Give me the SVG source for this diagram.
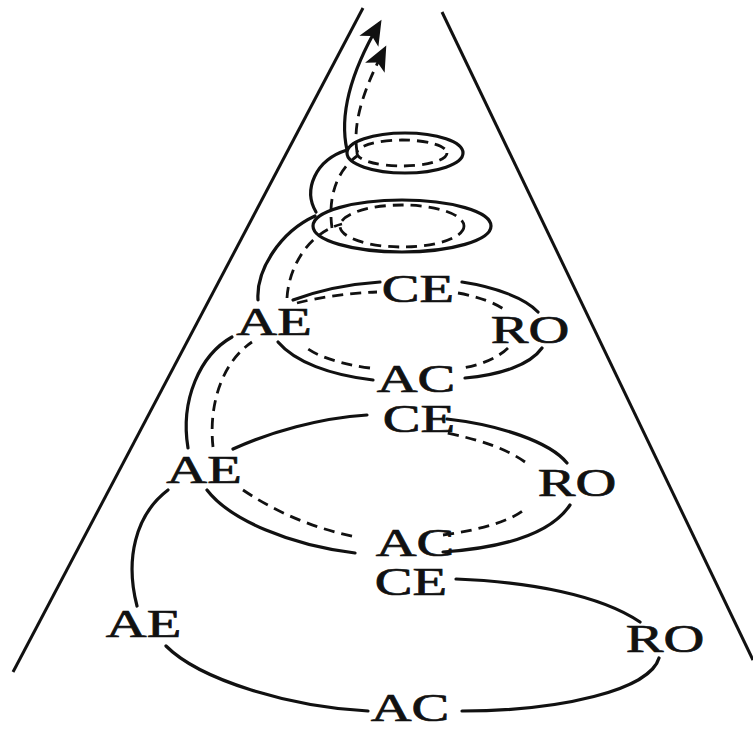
<svg xmlns="http://www.w3.org/2000/svg" width="753" height="730" viewBox="0 0 753 730">
<defs>
<style>
.lbl{font-family:"Liberation Serif","Times New Roman",serif;font-size:39px;fill:#111;stroke:#111;stroke-width:0.7;text-anchor:middle}
.s{fill:none;stroke:#111;stroke-width:3.2;stroke-linecap:round}
.d{fill:none;stroke:#111;stroke-width:2.8;stroke-dasharray:11 7}
.cone{fill:none;stroke:#111;stroke-width:3}
</style>
<marker id="ah" markerUnits="userSpaceOnUse" markerWidth="28" markerHeight="24" refX="20" refY="11" orient="auto">
<path d="M0,0 L25,11 L0,22 L6,11 Z" fill="#111"/>
</marker>
</defs>
<rect width="753" height="730" fill="#fff"/>
<g id="cone">
<line class="cone" x1="363" y1="8" x2="13" y2="672"/>
<line class="cone" x1="442" y1="12" x2="753" y2="660"/>
</g>
<g id="connectors">
<!-- bottom loop -->
<path class="s" d="M456,579 C530,582 600,595 640,622"/>
<path class="s" d="M659,658 C650,690 560,711 462,711"/>
<path class="s" d="M368,711 C290,707 200,680 166,646"/>
<path class="s" d="M137,606 C125,560 135,515 168,490"/>
<!-- middle loop -->
<path class="s" d="M233,449 C270,432 320,418 367,415"/>
<path class="s" d="M447,419 C500,425 550,442 567,463"/>
<path class="s" d="M570,505 C550,535 500,548 443,552"/>
<path class="s" d="M355,553 C290,545 230,520 207,490"/>
<path class="d" d="M243,490 C280,515 320,530 357,537"/>
<path class="d" d="M443,535 C480,530 515,520 527,507"/>
<path class="d" d="M525,462 C505,448 480,440 447,433"/>
<path class="s" d="M188,448 C180,400 200,355 232,337"/>
<path class="d" d="M213,447 C208,400 225,360 252,342"/>
<!-- upper loop -->
<path class="s" d="M293,300 C320,290 350,284 380,282"/>
<path class="s" d="M462,282 C495,287 525,298 538,312"/>
<path class="s" d="M542,348 C530,365 500,375 465,378"/>
<path class="s" d="M373,380 C330,375 295,362 278,342"/>
<path class="d" d="M297,303 C320,297 350,293 377,292"/>
<path class="d" d="M458,293 C480,297 495,303 505,310"/>
<path class="d" d="M508,348 C498,358 480,365 463,368"/>
<path class="d" d="M370,368 C340,364 315,356 303,345"/>
<!-- rising spiral -->
<path class="s" d="M258,300 C256,270 280,232 315,216"/>
<path class="d" d="M287,298 C289,265 310,232 342,224"/>
<ellipse class="s" cx="402" cy="226" rx="89" ry="26"/>
<ellipse class="d" cx="402" cy="226" rx="62" ry="21"/>
<path class="s" d="M316,212 C303,190 315,160 347,150"/>
<path class="d" d="M332,228 C328,200 335,172 357,156"/>
<ellipse class="s" cx="405" cy="153" rx="58" ry="20"/>
<ellipse class="d" cx="402" cy="153" rx="45" ry="13"/>
<path class="s" d="M347,150 C338,110 355,65 379,24" marker-end="url(#ah)"/>
<path class="d" d="M357,152 C352,120 366,85 384,50" marker-end="url(#ah)"/>
</g>
<g id="ae3" transform="translate(143.5,637) scale(1.45,1)"><text class="lbl" x="0" y="0">AE</text></g>
<g id="ce3" transform="translate(411,595) scale(1.45,1)"><text class="lbl" x="0" y="0">CE</text></g>
<g id="ro3" transform="translate(665,652) scale(1.45,1)"><text class="lbl" x="0" y="0">RO</text></g>
<g id="ac3" transform="translate(410,721) scale(1.45,1)"><text class="lbl" x="0" y="0">AC</text></g>
<g id="ae2" transform="translate(204,483) scale(1.45,1)"><text class="lbl" x="0" y="0">AE</text></g>
<g id="ce2" transform="translate(419,432) scale(1.45,1)"><text class="lbl" x="0" y="0">CE</text></g>
<g id="ro2" transform="translate(577,496) scale(1.45,1)"><text class="lbl" x="0" y="0">RO</text></g>
<g id="ac2" transform="translate(415,556) scale(1.45,1)"><text class="lbl" x="0" y="0">AC</text></g>
<g id="ae1" transform="translate(274,335) scale(1.45,1)"><text class="lbl" x="0" y="0">AE</text></g>
<g id="ce1" transform="translate(418,302) scale(1.45,1)"><text class="lbl" x="0" y="0">CE</text></g>
<g id="ro1" transform="translate(530,343) scale(1.45,1)"><text class="lbl" x="0" y="0">RO</text></g>
<g id="ac1" transform="translate(416,392) scale(1.45,1)"><text class="lbl" x="0" y="0">AC</text></g>
</svg>
